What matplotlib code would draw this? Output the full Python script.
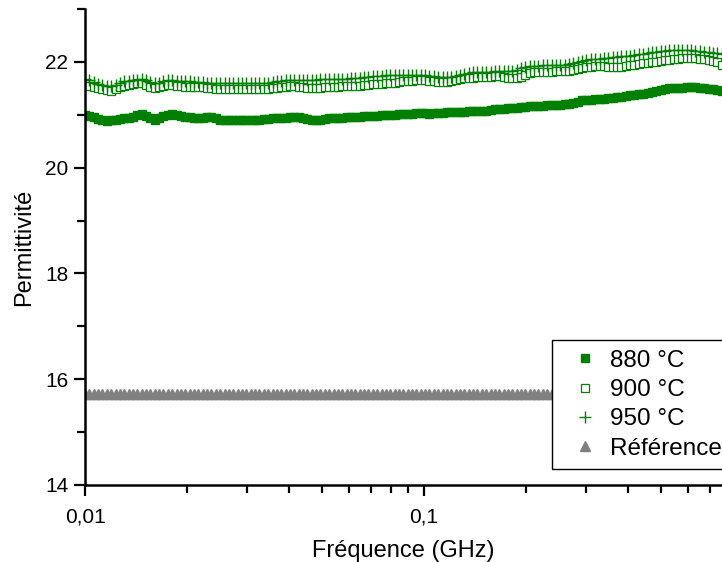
import numpy as np
import matplotlib
matplotlib.use("Agg")
from matplotlib import pyplot as plt
from matplotlib.ticker import FixedLocator, FuncFormatter

# log frequency sweep (GHz), visible part of the measurement
freq = np.logspace(-2, -0.122, 147)

perm_880 = [
    21.00, 20.98, 20.95, 20.92, 20.90, 20.89, 20.90, 20.91, 20.92, 20.93,
    20.94, 20.96, 21.00, 21.02, 20.98, 20.93, 20.90, 20.93, 20.97, 21.00,
    21.01, 20.99, 20.97, 20.96, 20.95, 20.94, 20.93, 20.94, 20.96, 20.95,
    20.93, 20.91, 20.90, 20.90, 20.90, 20.90, 20.91, 20.90, 20.91, 20.91,
    20.91, 20.92, 20.92, 20.93, 20.93, 20.94, 20.94, 20.95, 20.95, 20.95,
    20.94, 20.92, 20.91, 20.90, 20.91, 20.92, 20.93, 20.93, 20.94, 20.94,
    20.95, 20.95, 20.96, 20.96, 20.97, 20.97, 20.98, 20.98, 20.99, 21.00,
    21.00, 21.00, 21.01, 21.02, 21.02, 21.02, 21.03, 21.03, 21.03, 21.02,
    21.03, 21.04, 21.04, 21.05, 21.05, 21.05, 21.06, 21.06, 21.07, 21.07,
    21.07, 21.08, 21.08, 21.09, 21.10, 21.11, 21.11, 21.12, 21.13, 21.13,
    21.14, 21.15, 21.16, 21.16, 21.17, 21.17, 21.18, 21.18, 21.19, 21.19,
    21.20, 21.21, 21.23, 21.25, 21.27, 21.28, 21.28, 21.29, 21.30, 21.30,
    21.31, 21.32, 21.33, 21.34, 21.36, 21.37, 21.38, 21.39, 21.40, 21.42,
    21.43, 21.45, 21.47, 21.49, 21.50, 21.50, 21.50, 21.51, 21.52, 21.52,
    21.52, 21.51, 21.50, 21.49, 21.48, 21.47, 21.45,
]

perm_900 = [
    21.58, 21.55, 21.52, 21.50, 21.48, 21.46, 21.45, 21.48, 21.53, 21.55,
    21.57, 21.58, 21.60, 21.60, 21.57, 21.53, 21.50, 21.52, 21.55, 21.56,
    21.56, 21.55, 21.54, 21.53, 21.53, 21.52, 21.52, 21.52, 21.51, 21.50,
    21.49, 21.49, 21.48, 21.48, 21.48, 21.48, 21.48, 21.48, 21.48, 21.48,
    21.48, 21.48, 21.49, 21.50, 21.51, 21.52, 21.53, 21.54, 21.54, 21.53,
    21.52, 21.51, 21.50, 21.50, 21.51, 21.52, 21.52, 21.53, 21.53, 21.54,
    21.54, 21.54, 21.54, 21.55, 21.56, 21.57, 21.58, 21.59, 21.59, 21.60,
    21.60, 21.61, 21.62, 21.63, 21.64, 21.64, 21.65, 21.65, 21.65, 21.64,
    21.63, 21.62, 21.62, 21.62, 21.64, 21.66, 21.68, 21.70, 21.70, 21.70,
    21.71, 21.71, 21.72, 21.72, 21.73, 21.73, 21.72, 21.70, 21.69, 21.70,
    21.72, 21.76, 21.79, 21.80, 21.80, 21.80, 21.81, 21.81, 21.82, 21.82,
    21.82, 21.83, 21.85, 21.87, 21.89, 21.90, 21.91, 21.92, 21.93, 21.92,
    21.91, 21.90, 21.90, 21.91, 21.93, 21.94, 21.95, 21.96, 21.97, 21.98,
    21.99, 22.00, 22.02, 22.03, 22.04, 22.05, 22.06, 22.07, 22.08, 22.08,
    22.07, 22.06, 22.05, 22.04, 22.02, 21.99, 21.95,
]

perm_950 = [
    21.68, 21.66, 21.62, 21.59, 21.57, 21.55, 21.54, 21.57, 21.61, 21.63,
    21.64, 21.65, 21.66, 21.67, 21.65, 21.62, 21.60, 21.61, 21.63, 21.65,
    21.65, 21.64, 21.64, 21.63, 21.63, 21.62, 21.62, 21.62, 21.61, 21.61,
    21.60, 21.60, 21.60, 21.60, 21.60, 21.60, 21.60, 21.60, 21.60, 21.60,
    21.60, 21.60, 21.61, 21.62, 21.63, 21.64, 21.65, 21.65, 21.66, 21.66,
    21.66, 21.66, 21.66, 21.66, 21.67, 21.67, 21.67, 21.67, 21.68, 21.68,
    21.68, 21.69, 21.69, 21.70, 21.71, 21.72, 21.73, 21.74, 21.74, 21.75,
    21.75, 21.75, 21.75, 21.75, 21.75, 21.75, 21.75, 21.75, 21.75, 21.74,
    21.73, 21.72, 21.71, 21.71, 21.72, 21.74, 21.76, 21.78, 21.79, 21.80,
    21.80, 21.80, 21.81, 21.81, 21.82, 21.82, 21.82, 21.82, 21.83, 21.85,
    21.88, 21.90, 21.92, 21.93, 21.93, 21.94, 21.94, 21.94, 21.95, 21.95,
    21.95, 21.96, 21.98, 22.00, 22.02, 22.04, 22.05, 22.06, 22.06, 22.07,
    22.08, 22.09, 22.10, 22.11, 22.12, 22.12, 22.13, 22.14, 22.15, 22.17,
    22.18, 22.19, 22.20, 22.21, 22.22, 22.22, 22.22, 22.22, 22.22, 22.22,
    22.21, 22.20, 22.19, 22.18, 22.17, 22.16, 22.15,
]

perm_ref = [15.72] * len(freq)

labels = ["880 °C", "900 °C", "950 °C", "Référence"]
green = "#008000"
grey = "#808080"

plt.rcParams["font.family"] = ["Liberation Sans", "DejaVu Sans"]

fig = plt.figure(figsize=(7.22, 5.62), dpi=100)
ax = fig.add_axes([85 / 722, 1 - 485 / 562, 1 - 85 / 722, (485 - 9) / 562])

ax.plot(freq, perm_880, ls="none", marker="s", ms=6, color=green, label=labels[0])
ax.plot(freq, perm_900, ls="none", marker="s", ms=5.5, mfc="white", mec=green,
        mew=0.9, label=labels[1])
ax.plot(freq, perm_950, ls="none", marker="+", ms=8, color=green, mew=1.0,
        label=labels[2])
ax.plot(freq, perm_ref, ls="none", marker="^", ms=7.5, color=grey, mec=grey,
        label=labels[3])

ax.set_xscale("log")
ax.set_xlim(0.01, 0.757)
ax.set_ylim(14, 23)

ax.xaxis.set_major_locator(FixedLocator([0.01, 0.1, 1]))
ax.xaxis.set_minor_locator(FixedLocator([k * 0.01 for k in range(2, 10)] +
                                        [k * 0.1 for k in range(2, 10)]))
ax.xaxis.set_major_formatter(FuncFormatter(lambda v, p: ("%g" % v).replace(".", ",")))
ax.xaxis.set_minor_formatter(FuncFormatter(lambda v, p: ""))
ax.yaxis.set_major_locator(FixedLocator([14, 16, 18, 20, 22]))
ax.yaxis.set_minor_locator(FixedLocator([15, 17, 19, 21, 23]))

for s in ["top", "right"]:
    ax.spines[s].set_visible(False)
for s in ["left", "bottom"]:
    ax.spines[s].set_linewidth(1.8)

ax.tick_params(which="major", direction="out", length=8, width=1.6,
               labelsize=15, pad=8)
ax.tick_params(which="minor", direction="out", length=5.5, width=1.6)
ax.tick_params(axis="y", which="major", pad=4)

ax.set_xlabel("Fréquence (GHz)", fontsize=17, labelpad=10)
ax.set_ylabel("Permittivité", fontsize=17, labelpad=7)

leg = ax.legend(loc="upper left", bbox_to_anchor=(552 / 722, 1 - 340 / 562),
                bbox_transform=fig.transFigure, fontsize=17.5, frameon=True,
                fancybox=False, edgecolor="black", framealpha=1,
                handlelength=1.9, handletextpad=0.1, borderpad=0.4,
                labelspacing=0.3, borderaxespad=0)
leg.get_frame().set_linewidth(1.0)

fig.savefig("out.png", dpi=100)
